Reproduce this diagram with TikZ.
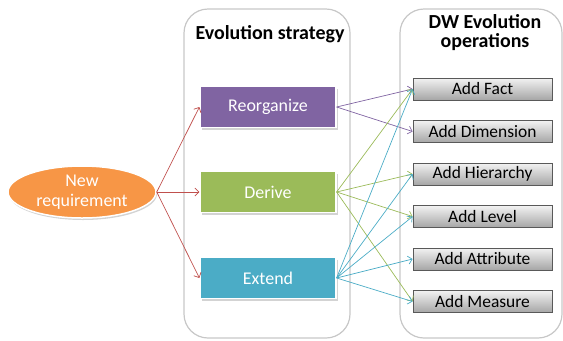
\documentclass[tikz,border=0pt]{standalone}
\usepackage{fontspec}
\setmainfont{Carlito}
\usetikzlibrary{positioning,shapes.geometric,shadows,arrows.meta}
\definecolor{reqorange}{HTML}{F79646}
\definecolor{linkred}{HTML}{C0504D}
\definecolor{reorgpurple}{HTML}{8064A2}
\definecolor{derivegreen}{HTML}{9BBB59}
\definecolor{extendteal}{HTML}{4BACC6}
\tikzset{
  group box/.style={draw=black!22, line width=1.2bp, rounded corners=24bp},
  title node/.style={font=\fontsize{20}{19}\selectfont\bfseries, align=center},
  req node/.style={ellipse, draw=white, line width=1.5bp, fill=reqorange, text=white,
    minimum width=148bp, minimum height=52bp, inner sep=0pt, align=center,
    font=\fontsize{18}{20}\selectfont,
    drop shadow={opacity=0.35, shadow xshift=1bp, shadow yshift=-2bp}},
  strat node/.style={draw=white, line width=1.2bp, text=white,
    minimum width=136bp, minimum height=41bp, inner sep=0pt,
    font=\fontsize{18}{20}\selectfont,
    drop shadow={opacity=0.35, shadow xshift=1.5bp, shadow yshift=-2bp}},
  op node/.style={draw=black!65, line width=0.8bp, top color=black!5, bottom color=black!35,
    minimum width=139bp, minimum height=22bp, inner sep=0pt,
    font=\fontsize{17.5}{19}\selectfont},
  link/.style={-{Straight Barb[length=4bp,width=8bp]}, line width=0.7bp},
}
\begin{document}
\begin{tikzpicture}[x=1bp,y=-1bp]
  \useasboundingbox (0,0) rectangle (563,340);

  % the two columns
  \draw[group box] (184,9) rectangle (350,338);
  \draw[group box] (400,9) rectangle (562,338);
  \node[title node] (stratTitle) at (270,34) {Evolution strategy};
  \node[title node] (opTitle) at (485,33) {DW Evolution\\operations};

  % requirement and strategies
  \node[req node] (req) at (82,192) {New\\requirement};
  \node[strat node, fill=reorgpurple] (reorg) at (268,107) {Reorganize};
  \node[strat node, fill=derivegreen] (derive) at (268,192) {Derive};
  \node[strat node, fill=extendteal] (extend) at (268,278) {Extend};

  % DW operations
  \node[op node] (fact) at (482.5,89) {Add Fact};
  \node[op node] (dim) [below = 19.7bp of fact] {Add Dimension};
  \node[op node] (hier) [below = 19.7bp of dim] {Add Hierarchy};
  \node[op node] (level) [below = 19.7bp of hier] {Add Level};
  \node[op node] (attr) [below = 19.7bp of level] {Add Attribute};
  \node[op node] (meas) [below = 19.7bp of attr] {Add Measure};

  \path[link, linkred]
    (req.east) edge (reorg.west)
    (req.east) edge (derive.west)
    (req.east) edge (extend.west);

  \path[link, reorgpurple]
    (reorg.east) edge (fact.west)
    (reorg.east) edge (dim.west);

  \path[link, derivegreen]
    (derive.east) edge (fact.west)
    (derive.east) edge (hier.west)
    (derive.east) edge (level.west)
    (derive.east) edge (meas.west);

  \path[link, extendteal]
    (extend.east) edge (fact.west)
    (extend.east) edge (hier.west)
    (extend.east) edge (level.west)
    (extend.east) edge (attr.west)
    (extend.east) edge (meas.west);
\end{tikzpicture}
\end{document}
